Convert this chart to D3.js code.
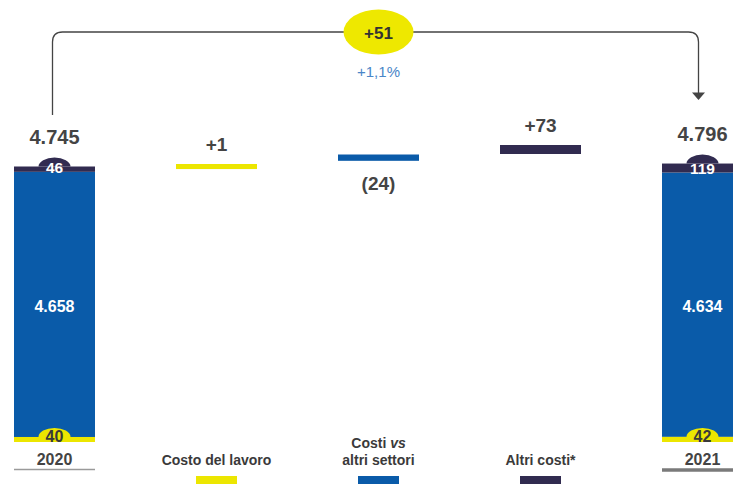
<!DOCTYPE html>
<html>
<head>
<meta charset="utf-8">
<title>Costi 2020-2021</title>
<style>
  body { margin: 0; background: #fff; }
  svg { display: block; font-family: "Liberation Sans", Arial, sans-serif; }
</style>
<script src="https://d3js.org/d3.v7.min.js"></script>
</head>
<body>
<svg width="733" height="484"></svg>
<script>
// data
var categories = ["2020", "Costo del lavoro", "Costi vs altri settori", "Altri costi*", "2021"];
var years = ["2020", "2021"];
var lavoro = [40, 42];          // yellow, bottom of stack
var settori = [4658, 4634];     // blue, middle
var altri = [46, 119];          // navy, top
var totals = [4745, 4796];
var deltaCats = ["Costo del lavoro", "Costi vs altri settori", "Altri costi*"];
var deltas = [1, -24, 73];
var deltaLabels = ["+1", "(24)", "+73"];
var totalLabels = ["4.745", "4.796"];
var midLabels = ["4.658", "4.634"];
var change = "+51", changePct = "+1,1%";

var colors = { lavoro: "#ece600", settori: "#0a5ba9", altri: "#312b50" };
var deltaColors = [colors.lavoro, colors.settori, colors.altri];

var svg = d3.select("svg");

var x = d3.scaleBand().domain(categories).range([14, 743]).paddingInner(0.5).paddingOuter(0);
var y = d3.scaleLinear().domain([0, totals[0]]).range([442, 166.5]);
// thin segments are drawn thicker than the scale would give
var thick = d3.scaleLinear().domain([0, 119]).range([3, 9]);
var deltaThick = d3.scaleLinear().domain([0, 73]).range([5, 9]);
var deltaTop = d3.scalePoint().domain(deltaCats).range([164, 145]);

var txt = "#444";

// stacked total bars
years.forEach(function(yr, i) {
  var g = svg.append("g");
  var x0 = x(yr), bw = x.bandwidth(), cx = x0 + bw / 2;
  var bottom = y(0);
  var yellowTop = bottom - thick(lavoro[i]);
  var top = y(totals[i]);
  var navyBottom = top + thick(altri[i]);

  g.append("rect").attr("x", x0).attr("y", navyBottom).attr("width", bw)
    .attr("height", yellowTop - navyBottom).attr("fill", colors.settori);
  g.append("rect").attr("x", x0).attr("y", yellowTop).attr("width", bw)
    .attr("height", bottom - yellowTop).attr("fill", colors.lavoro);
  g.append("rect").attr("x", x0).attr("y", top).attr("width", bw)
    .attr("height", navyBottom - top).attr("fill", colors.altri);

  // domes
  var rx = 16, ry = 9;
  g.append("path")
    .attr("d", "M" + (cx - rx) + "," + top + " A" + rx + "," + ry + " 0 0 1 " + (cx + rx) + "," + top + " Z")
    .attr("fill", colors.altri);
  g.append("path")
    .attr("d", "M" + (cx - rx) + "," + yellowTop + " A" + rx + "," + ry + " 0 0 1 " + (cx + rx) + "," + yellowTop + " Z")
    .attr("fill", colors.lavoro);

  g.append("text").attr("x", cx).attr("y", navyBottom + 1).attr("text-anchor", "middle")
    .attr("font-size", 15.5).attr("font-weight", "bold").attr("fill", "#fff").text(altri[i]);
  g.append("text").attr("x", cx).attr("y", bottom - 0.5).attr("text-anchor", "middle")
    .attr("font-size", 16).attr("font-weight", "bold").attr("fill", "#3a3a3a").text(lavoro[i]);
  g.append("text").attr("x", cx).attr("y", 312).attr("text-anchor", "middle")
    .attr("font-size", 16).attr("font-weight", "bold").attr("fill", "#fff").text(midLabels[i]);
  g.append("text").attr("x", cx).attr("y", top - 23).attr("text-anchor", "middle")
    .attr("font-size", 20).attr("font-weight", "bold").attr("fill", txt).text(totalLabels[i]);

  // year label + underline
  g.append("text").attr("x", cx).attr("y", 465).attr("text-anchor", "middle")
    .attr("font-size", 16).attr("font-weight", "bold").attr("fill", txt).text(yr);
  g.append("line").attr("x1", x0).attr("x2", x0 + bw)
    .attr("y1", i === 0 ? 469.5 : 470).attr("y2", i === 0 ? 469.5 : 470)
    .attr("stroke", i === 0 ? "#9a9a9a" : "#7a7a7a")
    .attr("stroke-width", i === 0 ? 1.5 : 3.5);
});

// floating delta bars
deltaCats.forEach(function(c, i) {
  var x0 = x(c), bw = x.bandwidth(), cx = x0 + bw / 2;
  var t = deltaTop(c), h = deltaThick(Math.abs(deltas[i]));
  svg.append("rect").attr("x", x0).attr("y", t).attr("width", bw).attr("height", h)
    .attr("fill", deltaColors[i]);
  svg.append("text").attr("x", cx)
    .attr("y", deltas[i] < 0 ? t + h + 29 : t - 13)
    .attr("text-anchor", "middle").attr("font-size", 19).attr("font-weight", "bold")
    .attr("fill", txt).text(deltaLabels[i]);

  // category label
  var lab = svg.append("text").attr("text-anchor", "middle").attr("font-size", 14)
    .attr("font-weight", "bold").attr("fill", "#3a3a3a");
  if (c === "Costi vs altri settori") {
    var l1 = lab.append("tspan").attr("x", cx).attr("y", 448);
    l1.append("tspan").text("Costi ");
    l1.append("tspan").attr("font-style", "italic").text("vs");
    lab.append("tspan").attr("x", cx).attr("y", 465).text("altri settori");
  } else {
    lab.attr("x", cx).attr("y", 465).text(c);
  }
  // legend swatch
  svg.append("rect").attr("x", cx - 20.5).attr("y", 476).attr("width", 41).attr("height", 8)
    .attr("fill", deltaColors[i]);
});

// connector with arrow
var xl = x(years[0]) + x.bandwidth() / 2 - 2,
    xr = x(years[1]) + x.bandwidth() / 2 - 4,
    yc = 32, r = 10;
svg.append("path")
  .attr("d", "M" + xl + ",115 V" + (yc + r) + " Q" + xl + "," + yc + " " + (xl + r) + "," + yc +
        " H" + (xr - r) + " Q" + xr + "," + yc + " " + xr + "," + (yc + r) + " V93")
  .attr("fill", "none").attr("stroke", "#444").attr("stroke-width", 1.3);
svg.append("path")
  .attr("d", "M" + (xr - 6.5) + ",92.5 L" + (xr + 6.5) + ",92.5 L" + xr + ",100 Z")
  .attr("fill", "#444");

var cxm = x(deltaCats[1]) + x.bandwidth() / 2;
svg.append("ellipse").attr("cx", cxm).attr("cy", 32).attr("rx", 35).attr("ry", 22.5)
  .attr("fill", "#eee800");
svg.append("text").attr("x", cxm).attr("y", 38.5).attr("text-anchor", "middle")
  .attr("font-size", 17).attr("font-weight", "bold").attr("fill", "#333").text(change);
svg.append("text").attr("x", cxm).attr("y", 76.5).attr("text-anchor", "middle")
  .attr("font-size", 15).attr("fill", "#4a86c8").text(changePct);
</script>
</body>
</html>
